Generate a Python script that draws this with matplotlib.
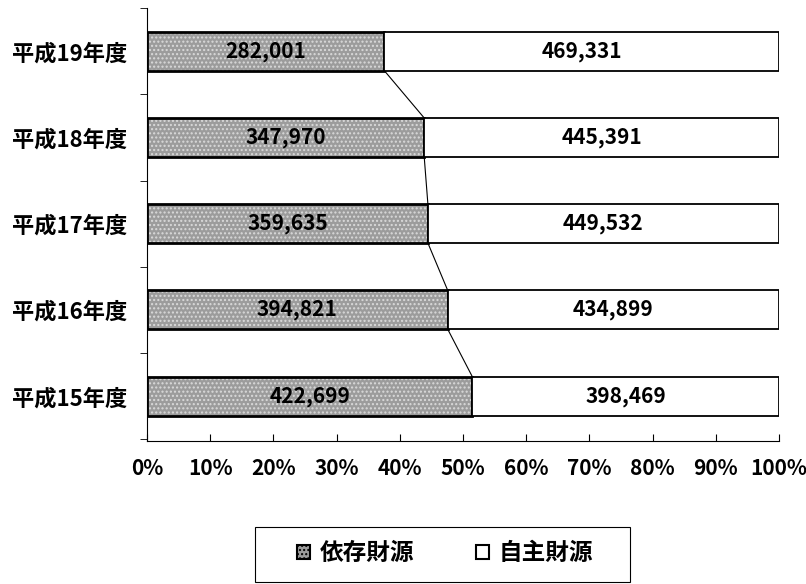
import numpy as np
import matplotlib.pyplot as plt
from matplotlib.patches import Patch, Rectangle

plt.rcParams['font.family'] = ['Noto Sans CJK JP', 'DejaVu Sans']
plt.rcParams['hatch.linewidth'] = 1.0

years = ['平成15年度', '平成16年度', '平成17年度', '平成18年度', '平成19年度']
dependent = [422699, 394821, 359635, 347970, 282001]
own = [398469, 434899, 449532, 445391, 469331]
series_names = ['依存財源', '自主財源']

dep = np.array(dependent, dtype=float)
own_a = np.array(own, dtype=float)
total = dep + own_a
dep_pct = dep / total * 100
own_pct = own_a / total * 100

fig = plt.figure(figsize=(8.06, 5.84), dpi=100)
ax = fig.add_axes([0.1824, 0.2449, 0.7841, 0.7414])

y = np.arange(len(years))
h = 0.45
gray = '#9c9c9c'
ax.barh(y, dep_pct, height=h, color=gray, hatch='....', edgecolor='#dadada', linewidth=0)
ax.barh(y, dep_pct, height=h, fill=False, edgecolor='black', linewidth=2.0)
ax.barh(y, own_pct, left=dep_pct, height=h, color='white', edgecolor='black', linewidth=1.3)

# series lines
for i in range(len(y) - 1):
    ax.plot([dep_pct[i], dep_pct[i + 1]], [y[i] + h / 2, y[i + 1] - h / 2],
            color='black', linewidth=0.8)

for i in range(len(y)):
    ax.text(dep_pct[i] / 2, y[i], f'{dependent[i]:,}', ha='center', va='center',
            fontsize=15, fontweight='bold')
    ax.text(dep_pct[i] + own_pct[i] / 2, y[i], f'{own[i]:,}', ha='center', va='center',
            fontsize=15, fontweight='bold')

ax.set_xlim(0, 100)
ax.set_ylim(-0.52, 4.5)
ax.set_yticks(y)
ax.set_yticklabels(years, fontsize=16, fontweight='bold')
ax.set_yticks(np.arange(-0.5, 4.6, 1), minor=True)
ax.tick_params(axis='y', which='major', length=0, pad=14)
ax.tick_params(axis='y', which='minor', length=5, direction='out')
ax.set_xticks(np.arange(0, 101, 10))
ax.set_xticklabels([f'{v}%' for v in range(0, 101, 10)], fontsize=15, fontweight='bold')
ax.tick_params(axis='x', direction='in', length=5, pad=12)
ax.spines['top'].set_visible(False)
ax.spines['right'].set_visible(False)

# legend box
fig.patches.append(Rectangle((255 / 806, 2 / 584), 375 / 806, 55 / 584,
                             transform=fig.transFigure, fill=False,
                             edgecolor='black', linewidth=0.8))
handles = [Patch(facecolor=gray, hatch='....', edgecolor='black', linewidth=1.5),
           Patch(facecolor='white', edgecolor='black', linewidth=1.5)]
leg = fig.legend(handles, series_names, loc='center',
                 bbox_to_anchor=(445 / 806, 31 / 584),
                 ncol=2, frameon=False,
                 handlelength=0.55, handleheight=0.55, handletextpad=0.42,
                 columnspacing=2.6, borderpad=0, borderaxespad=0,
                 prop={'weight': 'bold', 'size': 17})

fig.savefig('out.png', dpi=100)
